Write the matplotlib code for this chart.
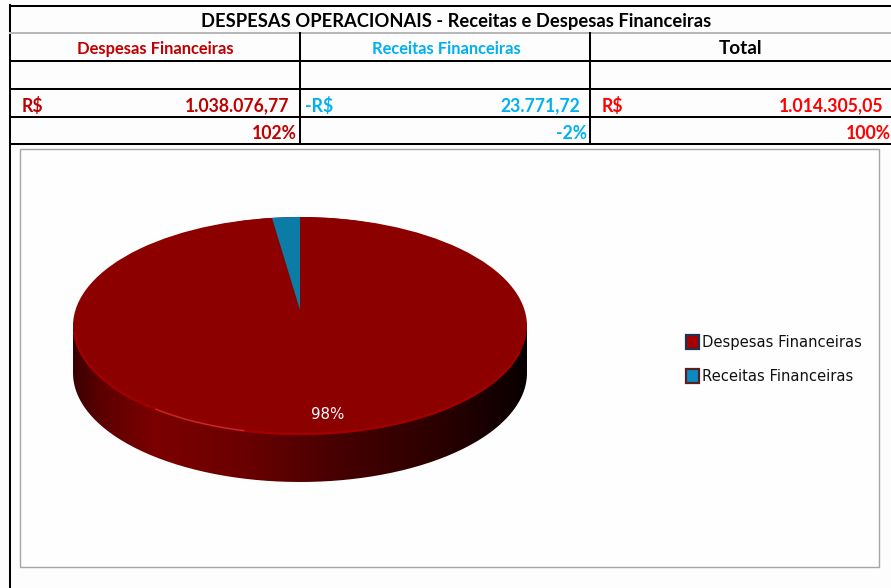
import numpy as np
import matplotlib
matplotlib.use("Agg")
import matplotlib.pyplot as plt
from matplotlib.patches import Ellipse, PathPatch, Rectangle
from matplotlib.path import Path
from matplotlib.colors import LinearSegmentedColormap

W, H = 891, 588

title = "DESPESAS OPERACIONAIS - Receitas e Despesas Financeiras"
headers = ["Despesas Financeiras", "Receitas Financeiras", "Total"]
currency = ["R$", "-R$", "R$"]
amounts = ["1.038.076,77", "23.771,72", "1.014.305,05"]
shares = ["102%", "-2%", "100%"]
header_colors = ["#c00000", "#00b0f0", "#000000"]
value_colors = ["#c00000", "#00b0f0", "#ff0000"]

pie_labels = ["Despesas Financeiras", "Receitas Financeiras"]
pie_values = [1038076.77, 23771.72]

RED = "#8c0000"
BLUE = "#0a7ca5"

plt.rcParams["font.family"] = ["Lato", "DejaVu Sans"]
fig = plt.figure(figsize=(W / 100, H / 100), dpi=100, facecolor="#fdfdfd")

# whole figure in pixel coordinates for the table and the chart frame
ax = fig.add_axes([0, 0, 1, 1])
ax.set_xlim(0, W)
ax.set_ylim(H, 0)
ax.axis("off")

lw = 1.45
ax.plot([10, 10], [5, H], color="black", lw=lw)
ax.plot([10, W], [6, 6], color="black", lw=lw)
ax.plot([10, W], [33, 33], color="#b8b8b8", lw=lw)
for y in [61, 89, 117, 144]:
    ax.plot([10, W], [y, y], color="black", lw=lw)
for x in [300, 590]:
    ax.plot([x, x], [33, 144], color="black", lw=lw)

ax.text(456, 21, title, ha="center", va="center", fontsize=13.2, fontweight="bold", color="black")

header_x = [155, 446, 741]
header_size = [11.9, 11.9, 13.6]
left_x = [22, 305, 602]
amount_x = [289, 580, 883]
share_x = [297, 587, 891]
for i in range(3):
    ax.text(header_x[i], 49, headers[i], ha="center", va="center",
            fontsize=header_size[i], fontweight="bold", color=header_colors[i])
    ax.text(left_x[i], 105.5, currency[i], ha="left", va="center",
            fontsize=12.7, fontweight="bold", color=value_colors[i])
    ax.text(amount_x[i], 105.5, amounts[i], ha="right", va="center",
            fontsize=12.7, fontweight="bold", color=value_colors[i])
    ax.text(share_x[i], 133.5, shares[i], ha="right", va="center",
            fontsize=12.7, fontweight="bold", color=value_colors[i])

# chart frame
ax.add_patch(Rectangle((20, 149), 859, 418, facecolor="#fefefe", edgecolor="#a6a6a6", lw=1.0))

# pie side wall, a gradient clipped to the lower part of the disc
cx, cy, rx, ry, depth = 300, 326, 227, 109, 47
t = np.linspace(0, np.pi, 200)
low_x = cx + rx * np.cos(t)
low_y = cy + depth + ry * np.sin(t)
wall = np.column_stack([
    np.r_[cx + rx, low_x, cx - rx],
    np.r_[cy, low_y, cy],
])
wall_patch = PathPatch(Path(np.vstack([wall, wall[0]])), facecolor="none", edgecolor="none")
ax.add_patch(wall_patch)
wall_cmap = LinearSegmentedColormap.from_list("wall", [
    (0.0, "#3a0000"), (0.06, "#5c0000"), (0.18, "#7c0000"), (0.38, "#6a0000"),
    (0.6, "#440000"), (0.8, "#2c0000"), (0.95, "#120000"), (1.0, "#060000"),
])
im = ax.imshow(np.linspace(0, 1, 256)[None, :], cmap=wall_cmap, aspect="auto",
               extent=(cx - rx, cx + rx, cy + depth + ry, cy), zorder=2)
im.set_clip_path(wall_patch)
ax.set_xlim(0, W)
ax.set_ylim(H, 0)

# top face and its lit rim
ax.add_patch(Ellipse((cx, cy), 2 * rx, 2 * ry, facecolor=RED, edgecolor="none", zorder=3))
tr = np.linspace(0.08 * np.pi, 0.98 * np.pi, 160)
ax.plot(cx + (rx - 1) * np.cos(tr), cy + (ry - 1) * np.sin(tr), color="#a00000", lw=1.8, zorder=4)
th = np.linspace(0.58 * np.pi, 0.72 * np.pi, 40)
ax.plot(cx + (rx - 1) * np.cos(th), cy + (ry - 1) * np.sin(th), color="#c03030", lw=0.9, zorder=4)

# slices, the pie axes is stretched so the circle turns into an ellipse
pie_ax = fig.add_axes([100 / W, 1 - 403 / H, 400 / W, 186 / H], zorder=2)
pie_ax.patch.set_alpha(0)
pie_ax.pie(pie_values, colors=[RED, BLUE], startangle=90, counterclock=False,
           radius=1, wedgeprops={"linewidth": 0})
pie_ax.set_aspect("auto")
pie_ax.set_xlim(-1, 1)
pie_ax.set_ylim(-1, 1)

pie_ax.text(328, 414.5, "98%", transform=ax.transData, ha="center", va="center",
            fontsize=10.8, color="white", family="DejaVu Sans")

# legend
legend_colors = [("#a80000", "#1f3350"), ("#0a8cc0", "#5a2020")]
legend_y = [342, 376]
for name, y, (fc, ec) in zip(pie_labels, legend_y, legend_colors):
    ax.add_patch(Rectangle((686, y - 7), 13, 14, facecolor=fc, edgecolor=ec, lw=1.6))
    ax.text(702, y + 0.5, name, ha="left", va="center", fontsize=10.6,
            family="DejaVu Sans", color="#111111")

fig.savefig("out.png", dpi=100, facecolor=fig.get_facecolor())
